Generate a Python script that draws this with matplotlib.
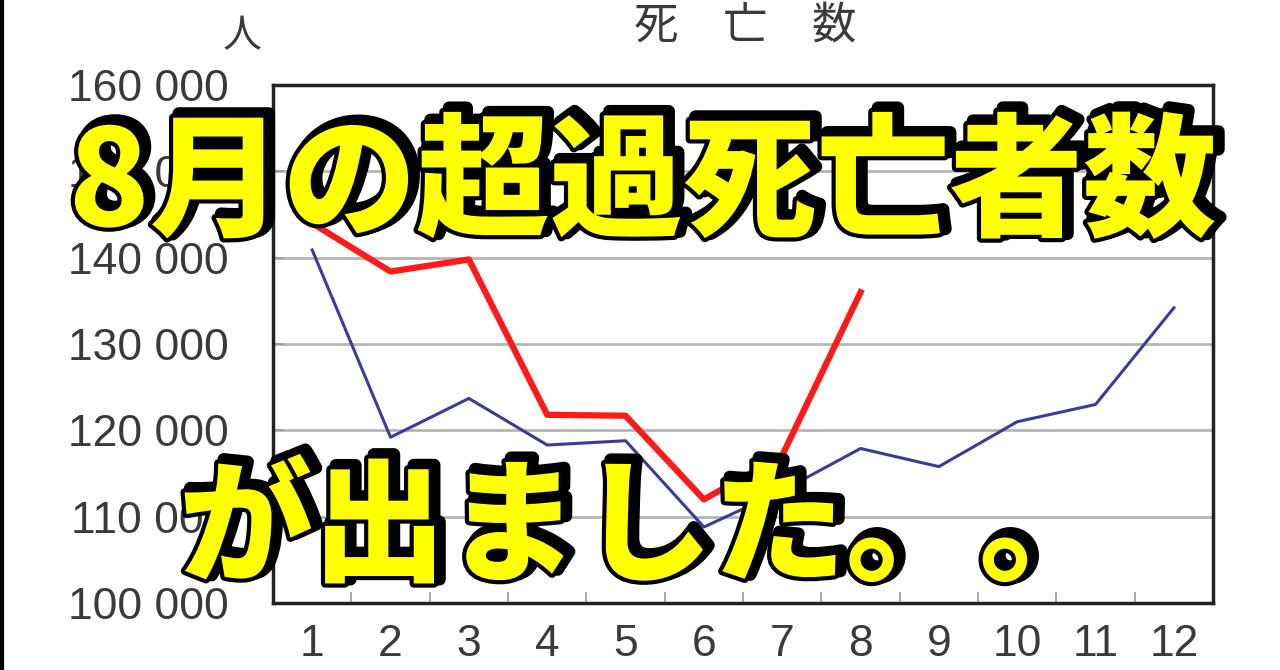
import matplotlib
matplotlib.use("Agg")
import matplotlib.pyplot as plt
import matplotlib.patheffects as pe
from matplotlib.lines import Line2D

plt.rcParams['font.family'] = ['Liberation Sans', 'Noto Sans CJK JP', 'DejaVu Sans']

# data
months = [1, 2, 3, 4, 5, 6, 7, 8, 9, 10, 11, 12]
deaths_avg = [140900, 119200, 123700, 118300, 118800, 108800,
              113000, 117900, 115800, 121000, 123000, 134200]
months_2021 = [1, 2, 3, 4, 5, 6, 7, 8]
deaths_2021 = [144000, 138400, 139800, 121800, 121700, 112000, 117100, 136000]
yticks = [100000, 110000, 120000, 130000, 140000, 150000, 160000]
ylabels = ['100 000', '110 000', '120 000', '130 000', '140 000', '150 000', '160 000']

fig = plt.figure(figsize=(12.8, 6.7), dpi=100)
ax = fig.add_axes([0.2133, 0.1, 0.7344, 0.773])

ax.plot(months, deaths_avg, color='#3b3b9c', lw=2.2, zorder=3)
ax.plot(months_2021, deaths_2021, color='#ff1a1a', lw=4.5, zorder=4)

ax.set_xlim(0.5, 12.5)
ax.set_ylim(100000, 160000)
ax.set_yticks(yticks)
ax.set_yticklabels(ylabels)
ax.set_xticks(months)
ax.set_xticks([m + 0.5 for m in months[:-1]], minor=True)
ax.tick_params(axis='x', which='major', length=0, pad=15, labelsize=32, labelcolor='#3a3a3a')
ax.tick_params(axis='x', which='minor', direction='in', length=8, width=1.2, color='#999999')
ax.tick_params(axis='y', direction='in', length=8, width=1.2, color='#999999',
               pad=32, labelsize=32, labelcolor='#3a3a3a')
ax.grid(axis='y', color='#b5b5b5', lw=2)
for s in ax.spines.values():
    s.set_linewidth(2.5)
    s.set_color('#222222')

fig.text(0.189, 0.946, '人', fontsize=28, color='#3a3a3a', ha='center', va='center',
         family=['Noto Sans CJK JP'])
fig.text(0.582, 0.962, '死　亡　数', fontsize=32, color='#3a3a3a', ha='center', va='center',
         family=['Noto Sans CJK JP'])

# left border of the screenshot
fig.add_artist(Line2D([0.0015, 0.0015], [0, 1], color='black', lw=3, transform=fig.transFigure))

effects = [pe.Stroke(linewidth=9, foreground='black', offset=(4, 3)),
           pe.Stroke(linewidth=6, foreground='black'),
           pe.Normal()]
fig.text(0.502, 0.722, '8月の超過死亡者数', fontsize=96, color='#ffff00', weight='black',
         ha='center', va='center', family=['Noto Sans CJK JP'], path_effects=effects)
fig.text(0.14, 0.207, 'が出ました。。', fontsize=96, color='#ffff00', weight='black',
         ha='left', va='center', family=['Noto Sans CJK JP'], path_effects=effects)

fig.savefig('out.png', dpi=100)
